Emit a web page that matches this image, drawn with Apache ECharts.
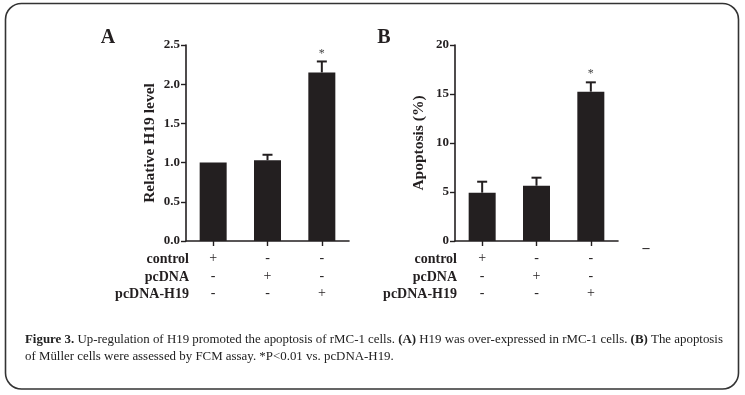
<!DOCTYPE html>
<html><head><meta charset="utf-8">
<script src="https://cdn.jsdelivr.net/npm/echarts@6/dist/echarts.min.js"></script>
<style>html,body{margin:0;padding:0;background:#fff}#c{width:745px;height:395px}</style>
</head><body><div id="c"></div><script>
// ---- data ----
const categories = ['control', 'pcDNA', 'pcDNA-H19'];
const rowLabels = ['control', 'pcDNA', 'pcDNA-H19'];
const signRows = [['+', '-', '-'], ['-', '+', '-'], ['-', '-', '+']];
const h19Level = [1.00, 1.03, 2.15];
const h19ErrTop = [1.00, 1.10, 2.29];
const h19Sig = ['', '', '*'];
const apoptosis = [4.93, 5.64, 15.24];
const apoptosisErrTop = [6.05, 6.46, 16.19];
const apoptosisSig = ['', '', '*'];
const yTicksA = [0, 0.5, 1.0, 1.5, 2.0, 2.5];
const yTicksB = [0, 5, 10, 15, 20];
const caption1 = [['b', 'Figure 3.'], ['n', ' Up-regulation of H19 promoted the apoptosis of rMC-1 cells. '], ['b', '(A)'], ['n', ' H19 was over-expressed in rMC-1 cells. '], ['b', '(B)'], ['n', ' The apoptosis']];
const caption2 = [['n', 'of Müller cells were assessed by FCM assay. *P<0.01 vs. pcDNA-H19.']];

// ---- styles ----
const INK = '#231f20';
const SERIF = '"Liberation Serif", "Times New Roman", serif';
const chart = echarts.init(document.getElementById('c'), null, {renderer: 'canvas'});

function yAxis(ticks, name, gi, decimals) {
  return {
    type: 'value', gridIndex: gi,
    min: ticks[0], max: ticks[ticks.length - 1], interval: ticks[1] - ticks[0],
    name: name, nameLocation: 'middle', nameGap: 28, nameRotate: 90,
    nameTextStyle: {fontFamily: SERIF, fontWeight: 'bold', fontSize: 15.5, color: INK},
    axisLine: {show: true, lineStyle: {color: INK, width: 1.6}},
    axisTick: {show: true, length: 5, lineStyle: {color: INK, width: 1.4}},
    axisLabel: {margin: 6, fontFamily: SERIF, fontWeight: 'bold', fontSize: 13, color: INK,
      formatter: v => decimals ? v.toFixed(decimals) : String(v)},
    splitLine: {show: false}
  };
}
function xAxis(gi) {
  return {
    type: 'category', gridIndex: gi, data: categories,
    axisLine: {show: true, lineStyle: {color: INK, width: 1.6}},
    axisTick: {show: true, alignWithLabel: true, length: 5, lineStyle: {color: INK, width: 1.4}},
    axisLabel: {margin: 9, fontFamily: SERIF, fontSize: 14, color: INK, lineHeight: 17.5,
      interval: 0, formatter: (v, i) => signRows.map(r => r[i]).join('\n')},
    splitLine: {show: false}
  };
}
function errSeries(gi, tops, vals, sig) {
  return {
    type: 'custom', xAxisIndex: gi, yAxisIndex: gi, z: 5,
    data: tops.map((t, i) => [i, t, vals[i]]),
    renderItem: (params, api) => {
      const i = api.value(0);
      const pTop = api.coord([i, api.value(1)]);
      const pBase = api.coord([i, api.value(2)]);
      const children = [];
      if (api.value(1) > api.value(2)) {
        children.push({type: 'line', shape: {x1: pBase[0], y1: pBase[1], x2: pTop[0], y2: pTop[1]}, style: {stroke: INK, lineWidth: 2}});
        children.push({type: 'line', shape: {x1: pTop[0] - 5, y1: pTop[1], x2: pTop[0] + 5, y2: pTop[1]}, style: {stroke: INK, lineWidth: 2}});
      }
      const s = sig[params.dataIndex];
      if (s) children.push({type: 'text', x: pTop[0], y: pTop[1] - 2, style: {text: s, fontFamily: SERIF, fontSize: 12, fill: '#444', align: 'center', verticalAlign: 'bottom'}});
      return {type: 'group', children};
    }
  };
}
function rowHeaders(xRight) {
  const ys = [259, 277, 294.5];
  return rowLabels.map((t, k) => ({type: 'text', x: xRight, y: ys[k],
    style: {text: t, fontFamily: SERIF, fontWeight: 'bold', fontSize: 14, fill: INK, align: 'right', verticalAlign: 'middle'}}));
}
function captionLine(parts, y) {
  return {type: 'text', x: 25, y: y, style: {
    text: parts.map(p => '{' + p[0] + '|' + p[1] + '}').join(''),
    verticalAlign: 'middle',
    rich: {
      b: {fontFamily: SERIF, fontWeight: 'bold', fontSize: 12.9, fill: '#222'},
      n: {fontFamily: SERIF, fontSize: 12.9, fill: '#222'}
    }}};
}

chart.setOption({
  animation: false,
  backgroundColor: '#fff',
  grid: [
    {left: 186, top: 45, width: 163, height: 196, containLabel: false, outerBoundsMode: 'none'},
    {left: 455, top: 45, width: 163, height: 196, containLabel: false, outerBoundsMode: 'none'}
  ],
  xAxis: [xAxis(0), xAxis(1)],
  yAxis: [yAxis(yTicksA, 'Relative H19 level', 0, 1), yAxis(yTicksB, 'Apoptosis (%)', 1, 0)],
  series: [
    {type: 'bar', xAxisIndex: 0, yAxisIndex: 0, data: h19Level, barWidth: 27, itemStyle: {color: INK}},
    {type: 'bar', xAxisIndex: 1, yAxisIndex: 1, data: apoptosis, barWidth: 27, itemStyle: {color: INK}},
    errSeries(0, h19ErrTop, h19Level, h19Sig),
    errSeries(1, apoptosisErrTop, apoptosis, apoptosisSig)
  ],
  graphic: [
    {type: 'rect', shape: {x: 5.5, y: 3.5, width: 733, height: 385.5, r: 16}, style: {fill: 'none', stroke: '#333', lineWidth: 1.6}, z: 10},
    {type: 'text', x: 108, y: 38, style: {text: 'A', fontFamily: SERIF, fontWeight: 'bold', fontSize: 20, fill: INK, align: 'center', verticalAlign: 'middle'}},
    {type: 'text', x: 384, y: 38, style: {text: 'B', fontFamily: SERIF, fontWeight: 'bold', fontSize: 20, fill: INK, align: 'center', verticalAlign: 'middle'}},
    {type: 'text', x: 646, y: 248, style: {text: '–', fontFamily: SERIF, fontWeight: 'bold', fontSize: 14, fill: INK, align: 'center', verticalAlign: 'middle'}},
    ...rowHeaders(189),
    ...rowHeaders(457),
    captionLine(caption1, 340),
    captionLine(caption2, 357)
  ]
});
</script></body></html>
